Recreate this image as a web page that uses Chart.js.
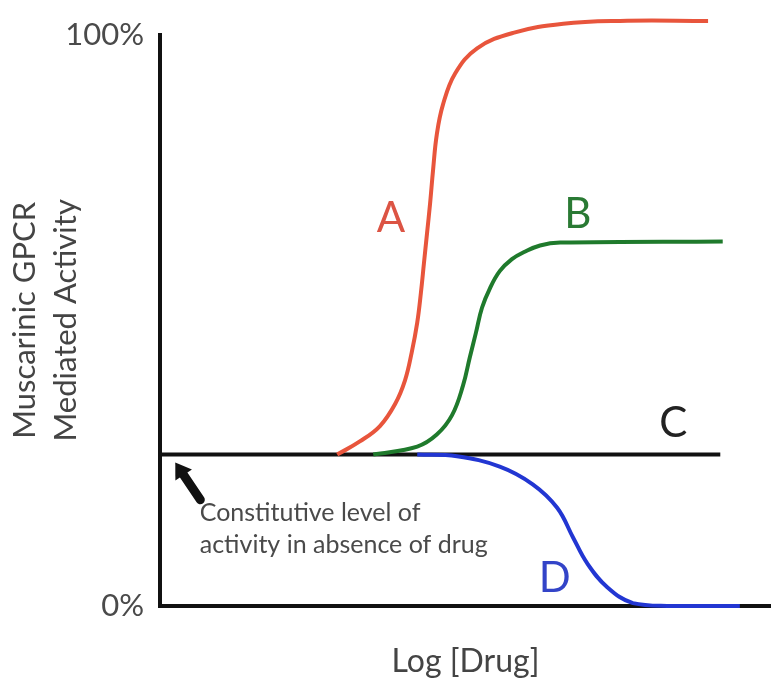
<!DOCTYPE html>
<html>
<head>
<meta charset="utf-8">
<script src="https://cdn.jsdelivr.net/npm/chart.js@4.4.1/dist/chart.umd.min.js"></script>
<style>
  body { margin: 0; background: #fff; }
  #wrap { width: 771px; height: 682px; }
</style>
</head>
<body>
<div id="wrap"><canvas id="myChart"></canvas></div>
<script>
// curve points: x = log [drug] (arbitrary units), y = % activity
const curveA = [
  [2.90, 26.5], [3.27, 28.8], [3.60, 31.5], [3.85, 35.4], [4.01, 39.5], [4.12, 44.4],
  [4.21, 49.6], [4.27, 54.8], [4.32, 60.0], [4.37, 65.2], [4.42, 70.4], [4.47, 76.4],
  [4.53, 82.5], [4.63, 87.7], [4.83, 93.2], [5.19, 97.6], [5.78, 100.3], [6.60, 101.9],
  [7.53, 102.4], [8.97, 102.4]
];
const curveB = [
  [3.49, 26.5], [4.21, 27.9], [4.53, 30.0], [4.78, 33.4], [4.96, 38.6], [5.07, 43.5],
  [5.17, 47.8], [5.27, 52.2], [5.40, 55.6], [5.56, 58.6], [5.76, 60.7], [5.97, 62.0],
  [6.22, 63.1], [6.55, 63.6], [9.21, 63.8]
];
const curveC = [[0, 26.5], [9.17, 26.5]];
const curveD = [
  [4.21, 26.5], [4.86, 26.2], [5.56, 24.4], [6.10, 21.3], [6.50, 17.2], [6.76, 12.0],
  [6.99, 7.5], [7.32, 3.3], [7.74, 0.5], [8.30, 0], [9.49, 0]
];
const yTicks = [0, 100];
const curveNames = ['A', 'B', 'C', 'D'];
const curveColors = ['#e8553c', '#1f7a2c', '#111111', '#2236d2'];
const noteLines = ['Constitutive level of', 'activity in absence of drug'];

const toXY = arr => arr.map(p => ({ x: p[0], y: p[1] }));

// letters next to the curves and the arrow + note for the constitutive level
const labelsPlugin = {
  id: 'curveLabels',
  afterDatasetsDraw(chart) {
    const { ctx, scales: { x, y } } = chart;
    const spots = [[3.78, 67.8], [6.84, 68.6], [8.40, 31.9], [6.46, 4.9]];
    const textColors = ['#dc5444', '#2a7a34', '#222222', '#3344c8'];
    ctx.save();
    ctx.font = '42px Lato';
    ctx.textAlign = 'center';
    ctx.textBaseline = 'middle';
    curveNames.forEach((n, i) => {
      ctx.fillStyle = textColors[i];
      ctx.fillText(n, x.getPixelForValue(spots[i][0]), y.getPixelForValue(spots[i][1]));
    });

    // arrow
    const tx = x.getPixelForValue(0.25), ty = y.getPixelForValue(25.1);
    const sx = x.getPixelForValue(0.66), sy = y.getPixelForValue(18.6);
    const ang = Math.atan2(ty - sy, tx - sx);
    const hx = tx - Math.cos(ang) * 15, hy = ty - Math.sin(ang) * 15;
    ctx.strokeStyle = '#111';
    ctx.fillStyle = '#111';
    ctx.lineWidth = 9;
    ctx.lineCap = 'round';
    ctx.beginPath();
    ctx.moveTo(sx, sy);
    ctx.lineTo(hx, hy);
    ctx.stroke();
    ctx.beginPath();
    ctx.moveTo(tx, ty);
    ctx.lineTo(hx + Math.cos(ang + Math.PI / 2) * 10, hy + Math.sin(ang + Math.PI / 2) * 10);
    ctx.lineTo(hx + Math.cos(ang - Math.PI / 2) * 10, hy + Math.sin(ang - Math.PI / 2) * 10);
    ctx.closePath();
    ctx.fill();

    ctx.font = '25px Lato';
    ctx.fillStyle = '#4a4a4a';
    ctx.textAlign = 'left';
    ctx.fillText(noteLines[0], x.getPixelForValue(0.65), y.getPixelForValue(16.3));
    ctx.fillText(noteLines[1], x.getPixelForValue(0.65), y.getPixelForValue(10.6));
    ctx.restore();
  }
};

const datasets = [curveA, curveB, curveC, curveD].map((c, i) => ({
  label: curveNames[i],
  data: toXY(c),
  borderColor: curveColors[i],
  borderWidth: 4,
  pointRadius: 0,
  tension: 0.4,
  clip: false,
  fill: false
}));
// draw C after A, B and D so it sits on top where they leave it
const order = [0, 1, 3, 2];

new Chart(document.getElementById('myChart').getContext('2d'), {
  type: 'line',
  data: { datasets: order.map(i => datasets[i]) },
  options: {
    responsive: true,
    maintainAspectRatio: false,
    animation: false,
    layout: { padding: { top: 29, right: 0, left: 0, bottom: 0 } },
    plugins: { legend: { display: false }, tooltip: { enabled: false } },
    scales: {
      x: {
        type: 'linear',
        min: 0,
        max: 10,
        grid: { display: false, drawTicks: false },
        border: { display: true, color: '#111', width: 4 },
        ticks: { display: false },
        title: {
          display: true,
          text: 'Log [Drug]',
          color: '#444',
          font: { family: 'Lato', size: 32 },
          padding: { top: 0, bottom: 1 }
        },
        afterFit(scale) { scale.height = 76; }
      },
      y: {
        min: 0,
        max: 100,
        grid: { display: false, drawTicks: false },
        border: { display: true, color: '#111', width: 4 },
        afterBuildTicks(scale) { scale.ticks = yTicks.map(v => ({ value: v })); },
        ticks: {
          color: '#4a4a4a',
          padding: 16,
          font: { family: 'Lato', size: 31 },
          callback: v => v + '%'
        },
        title: {
          display: true,
          text: ['Muscarinic GPCR', 'Mediated Activity'],
          color: '#444',
          font: { family: 'Lato', size: 31, lineHeight: 1.32 },
          padding: { top: 5, bottom: 0 }
        },
        afterFit(scale) { scale.width = 160; }
      }
    }
  },
  plugins: [labelsPlugin]
});
</script>
</body>
</html>
